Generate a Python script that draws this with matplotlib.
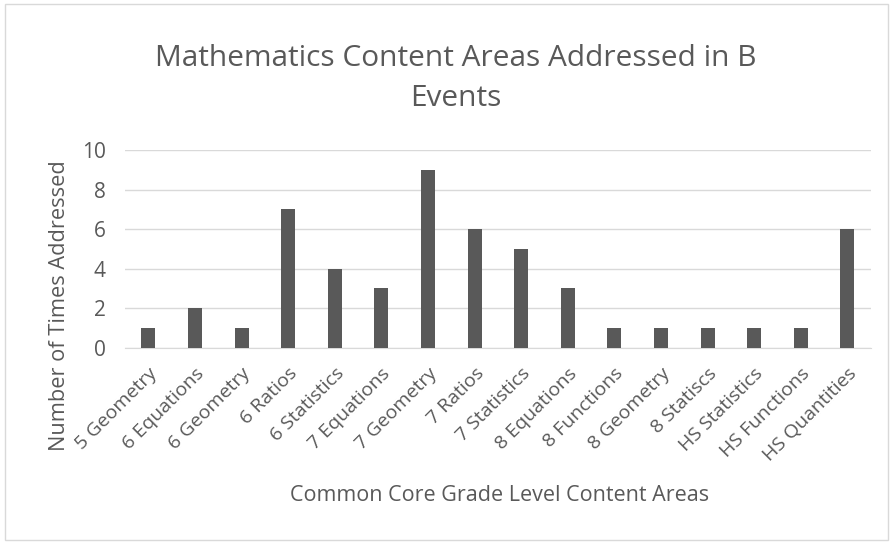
import matplotlib.pyplot as plt
from matplotlib.patches import Rectangle

# Data
categories = ['5 Geometry', '6 Equations', '6 Geometry', '6 Ratios', '6 Statistics',
              '7 Equations', '7 Geometry', '7 Ratios', '7 Statistics', '8 Equations',
              '8 Functions', '8 Geometry', '8 Statiscs', 'HS Statistics', 'HS Functions',
              'HS Quantities']
counts = [1, 2, 1, 7, 4, 3, 9, 6, 5, 3, 1, 1, 1, 1, 1, 6]
yticks = [0, 2, 4, 6, 8, 10]

plt.rcParams['font.family'] = ['Open Sans', 'DejaVu Sans']
text_color = '#595959'

fig = plt.figure(figsize=(8.93, 5.44), dpi=100)
ax = fig.add_axes([0.140, 0.361, 0.835, 0.363])

x = range(len(categories))
ax.bar(x, counts, width=0.3, color='#595959', zorder=3)

ax.set_ylim(0, 10)
ax.set_xlim(-0.5, len(categories) - 0.5)
ax.set_yticks(yticks)
ax.set_yticklabels([str(v) for v in yticks], fontsize=15, color=text_color)
ax.set_xticks(list(x))
ax.set_xticklabels(categories, rotation=45, ha='right', rotation_mode='anchor',
                   fontsize=14, color=text_color)
ax.tick_params(axis='x', length=0, pad=12)
ax.tick_params(axis='y', length=0, pad=14)
ax.grid(axis='y', color='#d9d9d9', linewidth=1, zorder=0)
for s in ['top', 'right', 'left']:
    ax.spines[s].set_visible(False)
ax.spines['bottom'].set_color('#d9d9d9')

fig.text(0.067, 0.4375, 'Number of Times Addressed', fontsize=15.7, color=text_color,
         ha='center', va='center', rotation=90)
fig.text(0.559, 0.09, 'Common Core Grade Level Content Areas', fontsize=15.5,
         color=text_color, ha='center', va='center')
fig.text(0.51, 0.855, 'Mathematics Content Areas Addressed in B\nEvents', fontsize=21.5,
         color=text_color, ha='center', va='center', linespacing=1.5)

# Chart border
fig.patches.append(Rectangle((0.006, 0.008), 0.988, 0.984, transform=fig.transFigure,
                             fill=False, edgecolor='#d9d9d9', linewidth=1))

fig.savefig('out.png', dpi=100)
